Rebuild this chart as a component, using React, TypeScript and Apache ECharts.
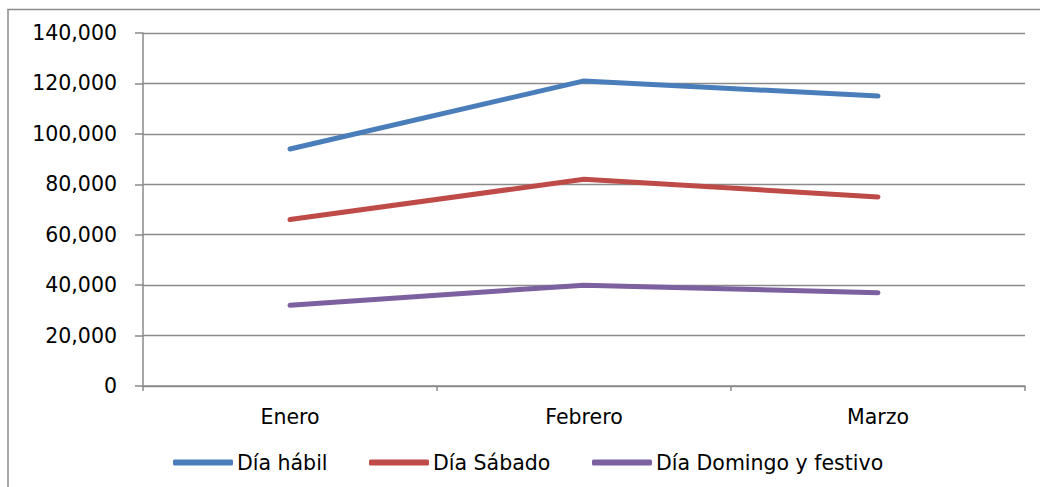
import React, { useEffect, useRef } from "react";
import * as echarts from "echarts";

const categories = ["Enero", "Febrero", "Marzo"];
const diaHabil = [94000, 121000, 115000];
const diaSabado = [66000, 82000, 75000];
const diaDomingo = [32000, 40000, 37000];
const seriesNames = ["Día hábil", "Día Sábado", "Día Domingo y festivo"];
const yMin = 0;
const yMax = 140000;
const yStep = 20000;

const colors = ["#4A7EBB", "#BE4B48", "#7D60A0"];
const gridColor = "#8a8a8a";
const legendLefts = [173, 369, 592];

function fmt(v: number): string {
  return String(v).replace(/\B(?=(\d{3})+(?!\d))/g, ",");
}

export default function App() {
  const ref = useRef<HTMLDivElement>(null);
  useEffect(() => {
    if (!ref.current) return;
    const chart = echarts.init(ref.current, undefined, { renderer: "svg" });
    const values = [diaHabil, diaSabado, diaDomingo];
    chart.setOption({
      animation: false,
      backgroundColor: "#ffffff",
      grid: { left: 143, right: 15, top: 33, bottom: 101, containLabel: false },
      graphic: [
        {
          type: "rect",
          z: -1,
          shape: { x: 8, y: 9.5, width: 1060, height: 500 },
          style: { fill: "none", stroke: gridColor, lineWidth: 1.5 },
          silent: true,
        },
      ],
      legend: seriesNames.map((name, i) => ({
        left: legendLefts[i],
        top: 452,
        padding: 0,
        icon: "roundRect",
        itemWidth: 60,
        itemHeight: 6,
        itemGap: 0,
        textStyle: { fontFamily: "DejaVu Sans", fontSize: 20.5, color: "#000", padding: [0, 0, 0, -1] },
        data: [name],
      })),
      xAxis: {
        type: "category",
        data: categories,
        boundaryGap: true,
        axisLine: { show: true, lineStyle: { color: gridColor, width: 1.5 } },
        axisTick: { show: true, length: 5, lineStyle: { color: gridColor, width: 1.5 } },
        axisLabel: {
          margin: 20,
          fontFamily: "DejaVu Sans",
          fontSize: 20.5,
          color: "#000",
        },
      },
      yAxis: {
        type: "value",
        min: yMin,
        max: yMax,
        interval: yStep,
        axisLine: { show: true, lineStyle: { color: gridColor, width: 1.5 } },
        axisTick: { show: true, length: 8, lineStyle: { color: gridColor, width: 1.5 } },
        splitLine: { show: true, lineStyle: { color: gridColor, width: 1.3 } },
        axisLabel: {
          margin: 26,
          fontFamily: "DejaVu Sans",
          fontSize: 20.5,
          color: "#000",
          formatter: (v: number) => fmt(v),
        },
      },
      series: seriesNames.map((name, i) => ({
        name,
        type: "line",
        data: values[i],
        showSymbol: false,
        symbol: "none",
        color: colors[i],
        lineStyle: { width: 5, color: colors[i], cap: "round", join: "round" },
        itemStyle: { color: colors[i] },
      })),
    });
    return () => chart.dispose();
  }, []);
  return (
    <div
      ref={ref}
      style={{ position: "fixed", left: 0, top: 0, width: 1040, height: 487 }}
    />
  );
}
